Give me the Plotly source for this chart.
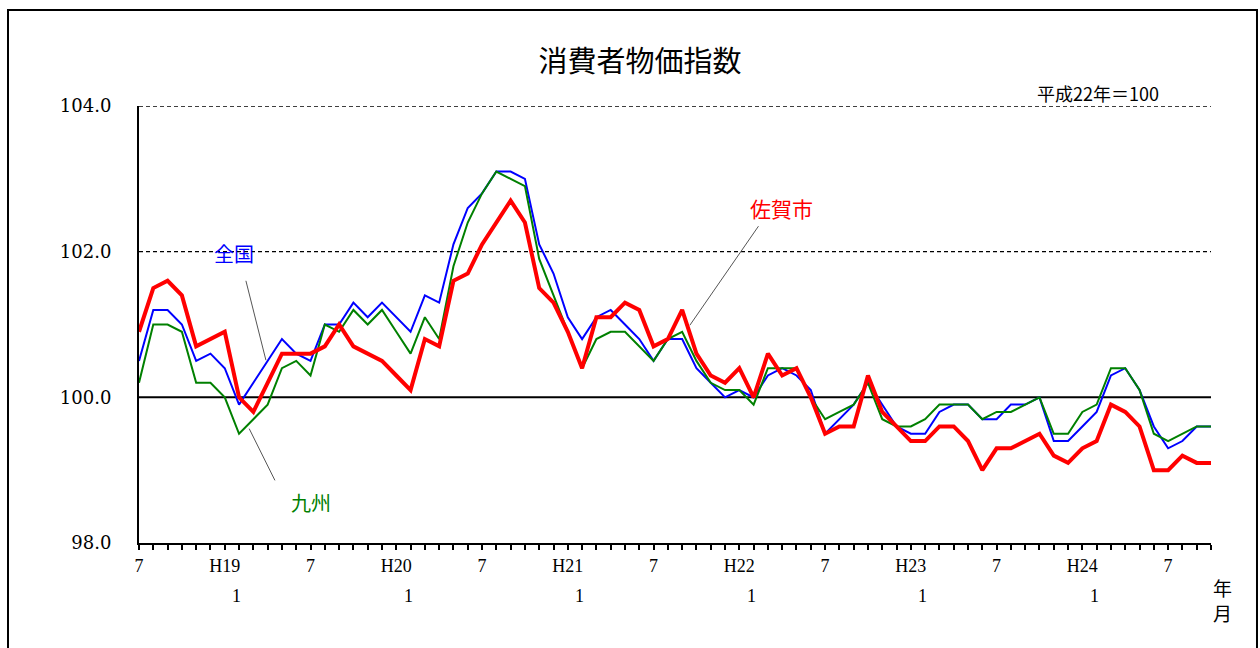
import plotly.graph_objects as go

# Monthly index, H18.7 - H24.10 (平成22年=100)
months = list(range(76))

saga = [100.9, 101.5, 101.6, 101.4, 100.7, 100.8, 100.9, 100.0, 99.8, 100.2,
        100.6, 100.6, 100.6, 100.7, 101.0, 100.7, 100.6, 100.5, 100.3, 100.1,
        100.8, 100.7, 101.6, 101.7, 102.1, 102.4, 102.7, 102.4, 101.5, 101.3,
        100.9, 100.4, 101.1, 101.1, 101.3, 101.2, 100.7, 100.8, 101.2, 100.6,
        100.3, 100.2, 100.4, 100.0, 100.6, 100.3, 100.4, 100.0, 99.5, 99.6,
        99.6, 100.3, 99.8, 99.6, 99.4, 99.4, 99.6, 99.6, 99.4, 99.0,
        99.3, 99.3, 99.4, 99.5, 99.2, 99.1, 99.3, 99.4, 99.9, 99.8,
        99.6, 99.0, 99.0, 99.2, 99.1, 99.1]

zenkoku = [100.5, 101.2, 101.2, 101.0, 100.5, 100.6, 100.4, 99.9, 100.2, 100.5,
           100.8, 100.6, 100.5, 101.0, 101.0, 101.3, 101.1, 101.3, 101.1, 100.9,
           101.4, 101.3, 102.1, 102.6, 102.8, 103.1, 103.1, 103.0, 102.1, 101.7,
           101.1, 100.8, 101.1, 101.2, 101.0, 100.8, 100.5, 100.8, 100.8, 100.4,
           100.2, 100.0, 100.1, 100.0, 100.3, 100.4, 100.3, 100.1, 99.5, 99.7,
           99.9, 100.2, 99.9, 99.6, 99.5, 99.5, 99.8, 99.9, 99.9, 99.7,
           99.7, 99.9, 99.9, 100.0, 99.4, 99.4, 99.6, 99.8, 100.3, 100.4,
           100.1, 99.6, 99.3, 99.4, 99.6, 99.6]

kyushu = [100.2, 101.0, 101.0, 100.9, 100.2, 100.2, 100.0, 99.5, 99.7, 99.9,
          100.4, 100.5, 100.3, 101.0, 100.9, 101.2, 101.0, 101.2, 100.9, 100.6,
          101.1, 100.8, 101.8, 102.4, 102.8, 103.1, 103.0, 102.9, 101.9, 101.4,
          100.9, 100.4, 100.8, 100.9, 100.9, 100.7, 100.5, 100.8, 100.9, 100.5,
          100.2, 100.1, 100.1, 99.9, 100.4, 100.4, 100.4, 100.0, 99.7, 99.8,
          99.9, 100.2, 99.7, 99.6, 99.6, 99.7, 99.9, 99.9, 99.9, 99.7,
          99.8, 99.8, 99.9, 100.0, 99.5, 99.5, 99.8, 99.9, 100.4, 100.4,
          100.1, 99.5, 99.4, 99.5, 99.6, 99.6]

# Month labels on the axis (every 6 months) and the year labels' second line
label_pos = [0, 6, 12, 18, 24, 30, 36, 42, 48, 54, 60, 66, 72]
label_text = ["7", "H19", "7", "H20", "7", "H21", "7", "H22", "7", "H23", "7", "H24", "7"]
jan_pos = [6, 18, 30, 42, 54, 66]

y_ticks = [98, 100, 102, 104]

SERIF = "Liberation Serif"
CJK = "Noto Sans CJK JP"

ticktext = [""] * len(months)
for p, t in zip(label_pos, label_text):
    ticktext[p] = t

fig = go.Figure()
fig.add_trace(go.Scatter(x=months, y=zenkoku, mode="lines", name="全国",
                         line=dict(color="#0000FF", width=2)))
fig.add_trace(go.Scatter(x=months, y=kyushu, mode="lines", name="九州",
                         line=dict(color="#008000", width=2)))
fig.add_trace(go.Scatter(x=months, y=saga, mode="lines", name="佐賀市",
                         line=dict(color="#FF0000", width=4)))

shapes = [
    # reference lines
    dict(type="line", xref="paper", x0=0, x1=1, yref="y", y0=100, y1=100,
         line=dict(color="black", width=2), layer="below"),
    dict(type="line", xref="paper", x0=0, x1=1, yref="y", y0=102, y1=102,
         line=dict(color="black", width=1.3, dash="4px,3px"), layer="below"),
    dict(type="line", xref="paper", x0=0, x1=1, yref="y", y0=104, y1=104,
         line=dict(color="black", width=1.3, dash="4px,3px"), layer="below"),
    # leader lines for series labels
    dict(type="line", xref="x", yref="y", x0=7.48, y0=101.60, x1=8.88, y1=100.51,
         line=dict(color="#555555", width=1)),
    dict(type="line", xref="x", yref="y", x0=7.71, y0=99.57, x1=9.51, y1=98.86,
         line=dict(color="#555555", width=1)),
    dict(type="line", xref="x", yref="y", x0=43.34, y0=102.35, x1=38.54, y1=100.99,
         line=dict(color="#555555", width=1)),
    # outer frame
    dict(type="rect", xref="paper", yref="paper", x0=-0.1222, x1=1.0429,
         y0=-0.30, y1=1.2197, line=dict(color="black", width=2)),
]


def note(text, x, y, xref, yref, family, size, color):
    return dict(text=text, x=x, y=y, xref=xref, yref=yref, showarrow=False,
                xanchor="center", yanchor="middle",
                font=dict(family=family, size=size, color=color))


annotations = [
    note("全国", 6.62, 101.98, "x", "y", CJK, 20, "#0000FF"),
    note("九州", 12.03, 98.56, "x", "y", CJK, 20, "#008000"),
    note("佐賀市", 44.97, 102.60, "x", "y", CJK, 21, "#FF0000"),
    note("平成22年＝100", 0.8946, 1.0297, "paper", "paper", CJK, 18, "black"),
    note("年<br>月", 1.0103, -0.1304, "paper", "paper", CJK, 19, "black"),
]
for p in jan_pos:
    annotations.append(note("1", p + 0.85, -0.1213, "x", "paper", SERIF, 18, "black"))

fig.update_layout(
    width=1260, height=648,
    margin=dict(l=139, r=49, t=106, b=105),
    paper_bgcolor="white", plot_bgcolor="white",
    showlegend=False,
    title=dict(text="消費者物価指数", x=0.508, y=0.904, xanchor="center",
               yanchor="middle", font=dict(family=CJK, size=29, color="black")),
    xaxis=dict(range=[0, 75], tickmode="array", tickvals=months, ticktext=ticktext,
               ticks="outside", ticklen=5, tickwidth=2, tickcolor="black",
               showline=True, linecolor="black", linewidth=2, showgrid=False,
               zeroline=False, tickangle=0,
               tickfont=dict(family=SERIF, size=18, color="black")),
    yaxis=dict(range=[98, 104], tickmode="array", tickvals=y_ticks,
               ticktext=[f"{v:.1f}" for v in y_ticks], ticks="",
               showline=True, linecolor="black", linewidth=2, showgrid=False,
               zeroline=False, ticklabelstandoff=22,
               tickfont=dict(family="DejaVu Serif", size=18, color="black")),
    shapes=shapes,
    annotations=annotations,
)

fig.write_html("out.html")
